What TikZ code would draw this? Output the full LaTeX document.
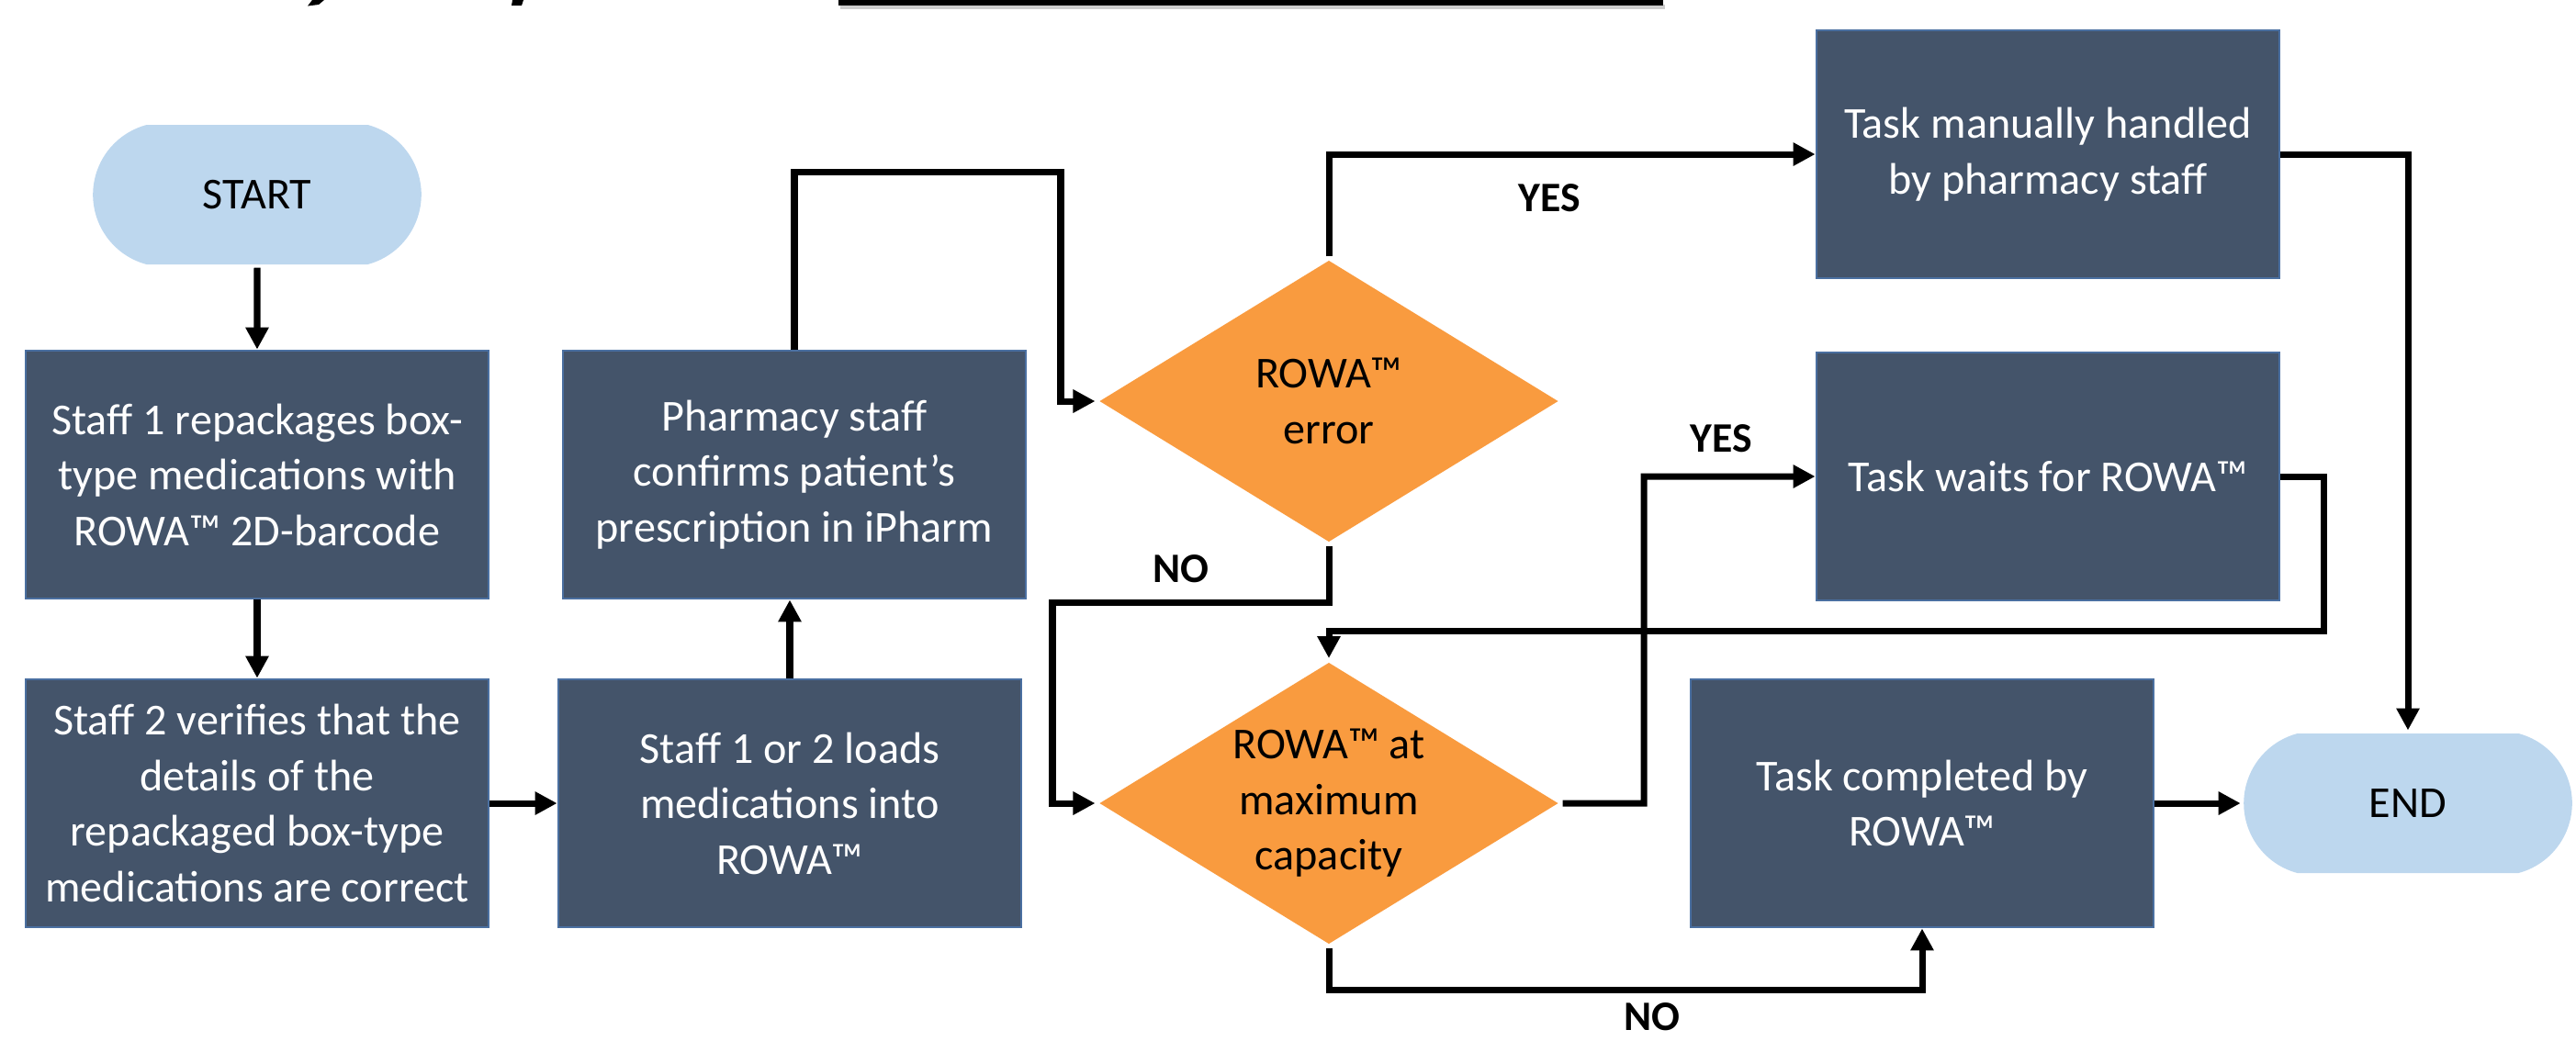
\documentclass[tikz,border=0pt]{standalone}
\usepackage{fontspec}
\setmainfont{Carlito}
\usepackage{tikz}
\usetikzlibrary{positioning,shapes.geometric,shapes.misc,arrows.meta}
\definecolor{slate}{HTML}{44546A}
\definecolor{slateedge}{HTML}{4A6FA0}
\definecolor{skyfill}{HTML}{BDD7EE}
\definecolor{orangefill}{HTML}{F99B3F}

\begin{document}
\begin{tikzpicture}[
        every node/.style = {align=center, font=\fontsize{13.7}{17.2}\selectfont},
        box/.style = {rectangle, fill=slate, draw=slateedge, line width=0.8pt, text=white,
                      minimum width=5.04cm, minimum height=2.7cm, inner sep=0pt},
        decision/.style = {diamond, fill=orangefill, aspect=1.62, inner sep=0pt,
                      minimum width=5.02cm, minimum height=3.09cm},
        term/.style = {rounded rectangle, rounded rectangle arc length=150, fill=skyfill,
                      minimum width=3.81cm, minimum height=1.52cm},
        lbl/.style = {font=\fontsize{13}{16}\selectfont\bfseries},
        >={Triangle[length=2.4mm,width=2.4mm]},
        line width=2pt
        ]
        \useasboundingbox (0,0) rectangle (28.05,-11.33);
        % cut-off title at the top
        \fill[black!20] (9.15,-0.05) rectangle (18.13,-0.10);
        \fill[black] (9.13,0) rectangle (18.11,-0.06);
        \fill[black] (3.40,0) -- (3.53,0) -- (3.47,-0.05) -- (3.35,-0.065) -- cycle;
        \fill[black] (5.58,0) -- (5.70,0) -- (5.68,-0.06) -- (5.57,-0.06) -- cycle;

        \node[term] (start) at (2.80,-2.12) {START};
        \node[box] (s1) [below of=start, node distance=3.05cm] {Staff 1 repackages box-\\type medications with\\ROWA™ 2D-barcode};
        \node[box] (s2) [below of=s1, node distance=3.58cm] {Staff 2 verifies that the\\details of the\\repackaged box-type\\medications are correct};
        \node[box] (load) [right of=s2, node distance=5.80cm] {Staff 1 or 2 loads\\medications into\\ROWA™};
        \node[box] (pharm) at (8.65,-5.17) {Pharmacy staff\\confirms patient’s\\prescription in iPharm};
        \node[decision] (err) at (14.47,-4.37) {ROWA™\\error};
        \node[decision] (cap) at (14.47,-8.75) {ROWA™ at\\maximum\\capacity};
        \node[box] (manual) at (22.30,-1.68) {Task manually handled\\by pharmacy staff};
        \node[box] (waits) [below of=manual, node distance=3.51cm] {Task waits for ROWA™};
        \node[box] (done) at (20.93,-8.75) {Task completed by\\ROWA™};
        \node[term] (end) at (26.22,-8.75) {END};

        % bends
        \coordinate (j1) at (11.55,-1.87);
        \coordinate (j2) at (11.46,-6.56);
        \coordinate (j3) at (17.90,-5.19);
        \coordinate (j4) at (25.30,-6.87);
        \coordinate (j5) at (20.93,-10.78);

        \draw[->] (start) -- (s1);
        \draw[->] (s1) -- (s2);
        \draw[->] (s2) -- (load);
        \draw[->] (load.north) -- (load.north |- pharm.south);
        \draw[->] (pharm.north) |- (j1) |- (err.west);
        \draw[->] (err.north) |- (manual.west);
        \draw[->] (err.south) |- (j2) |- (cap.west);
        \draw[->] (cap.east) -| (j3) -- (waits.west);
        \draw[->] (waits.east) -| (j4) -| (cap.north);
        \draw[->] (manual.east) -| (end.north);
        \draw[->] (cap.south) |- (j5) -- (done.south);
        \draw[->] (done) -- (end);

        \node[lbl] (yes1) at (16.87,-2.16) {YES};
        \node[lbl] (yes2) at (18.74,-4.78) {YES};
        \node[lbl] (no1) at (12.86,-6.20) {NO};
        \node[lbl] (no2) at (17.99,-11.08) {NO};
        \end{tikzpicture}
\end{document}
